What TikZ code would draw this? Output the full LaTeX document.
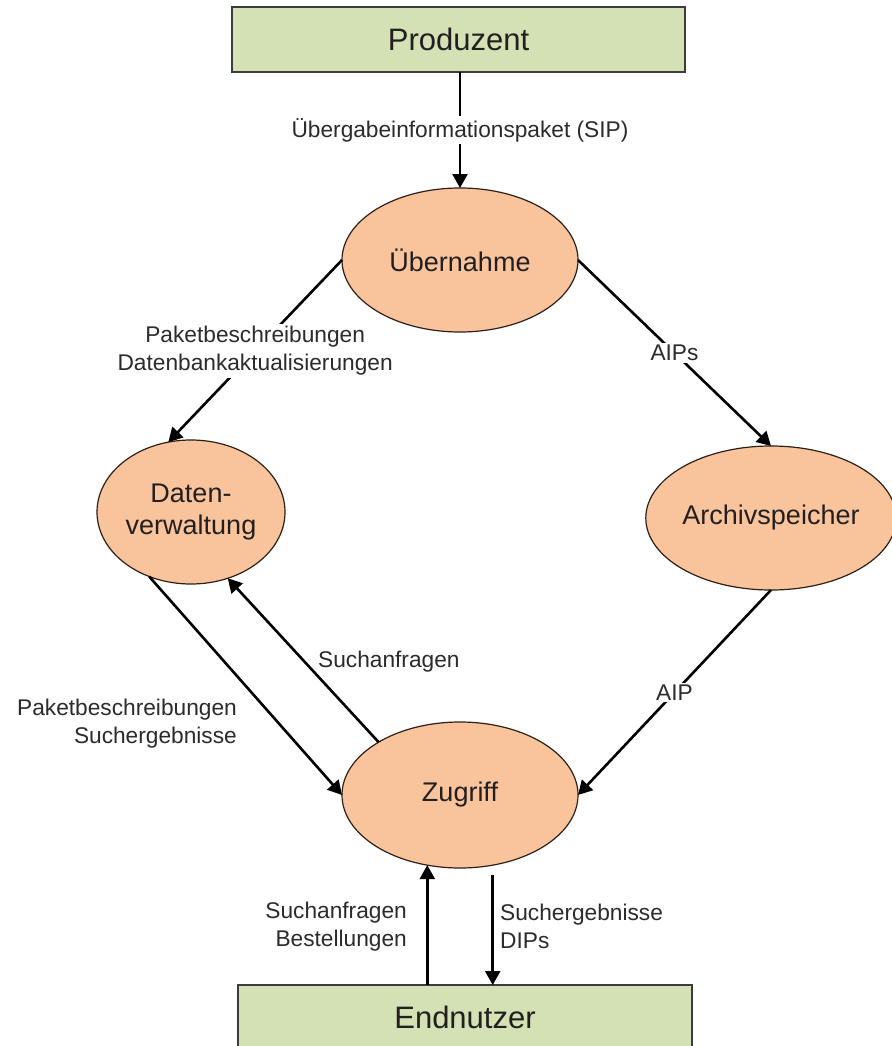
\documentclass[tikz,border=0pt]{standalone}
\usepackage{fontspec}
\setmainfont{Liberation Sans}
\usetikzlibrary{arrows.meta,shapes.geometric}
\definecolor{boxgreen}{HTML}{D3E1B5}
\definecolor{boxline}{HTML}{3C3C3C}
\definecolor{ovalorange}{HTML}{F9C49B}
\definecolor{ovalline}{HTML}{2E2018}
\definecolor{inkdark}{HTML}{231F20}
\definecolor{labelink}{HTML}{2B2B2B}

\begin{document}
\begin{tikzpicture}[x=1pt,y=-1pt,
  actor/.style={draw=boxline, line width=2pt, fill=boxgreen,
    minimum height=65pt, inner sep=0pt, outer sep=0pt,
    font=\fontsize{31}{36}\selectfont, text=inkdark},
  func/.style={ellipse, draw=ovalline, line width=1.2pt, fill=ovalorange,
    minimum width=236pt, minimum height=144pt, inner sep=0pt, outer sep=0pt,
    font=\fontsize{27}{32}\selectfont, align=center, text=inkdark},
  flow/.style={line width=2.6pt, draw=black, -{Triangle[length=14pt,width=15pt]}},
  flowlabel/.style={font=\fontsize{22.7}{28}\selectfont, text=labelink,
    inner sep=2pt, fill=white},
  sidelabel/.style={font=\fontsize{22.7}{28}\selectfont, text=labelink,
    inner sep=0pt}
]
% canvas
\fill[white] (0,0) rectangle (891,1046);
\useasboundingbox (0,0) rectangle (891,1046);

% external entities
\node[actor, minimum width=453pt] (prod) at (458.5,39.5) {Produzent};
\node[actor, minimum width=454pt] (endn) at (465,1017.5) {Endnutzer};

% functional entities
\node[func] (ueb) at (460,260) {Übernahme};
\node[func, minimum width=188pt] (dat) at (191,512) {Daten-\\verwaltung};
\node[func] (arch) at (771,518) {Archivspeicher};
\node[func, minimum height=146pt] (zug) at (460,795) {Zugriff};

% flows with labels on the line
\draw[flow] (prod.south -| ueb.north) -- (ueb.north)
  node[flowlabel, pos=0.5] {Übergabeinformationspaket (SIP)};
\draw[flow] (ueb.west) -- (dat.108)
  node[flowlabel, pos=0.5, align=center] {Paketbeschreibungen\\Datenbankaktualisierungen};
\draw[flow] (ueb.east) -- (arch.north)
  node[flowlabel, pos=0.5] {AIPs};
\draw[flow] (arch.south) -- (zug.east)
  node[flowlabel, pos=0.5] {AIP};

% flows with labels beside the line
\draw[flow] (dat.237) -- (zug.west);
\draw[flow] (zug.147) -- (dat.299);
\draw[flow] (zug.245 |- endn.north) -- (zug.245);
\draw[flow, shorten <=10pt] (zug.295) -- (zug.295 |- endn.north);

\node[sidelabel, anchor=east, align=right] (lpk) at (237,724)
  {Paketbeschreibungen\\Suchergebnisse};
\node[sidelabel, anchor=west] (lsa) at (318,662) {Suchanfragen};
\node[sidelabel, anchor=east, align=right] (lsb) at (407,926.5)
  {Suchanfragen\\Bestellungen};
\node[sidelabel, anchor=west, align=left] (lsd) at (500,926.5)
  {Suchergebnisse\\DIPs};
\end{tikzpicture}
\end{document}
